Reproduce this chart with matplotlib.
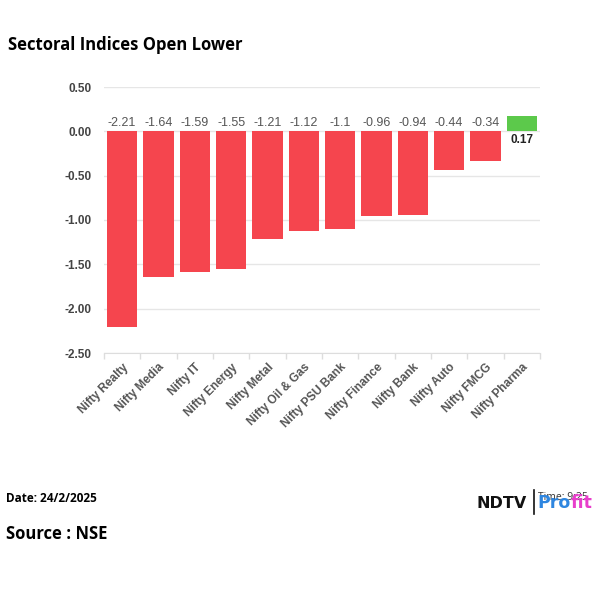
import matplotlib
matplotlib.use('Agg')
import matplotlib.pyplot as plt
import numpy as np

sectors = ["Nifty Realty", "Nifty Media", "Nifty IT", "Nifty Energy", "Nifty Metal",
           "Nifty Oil & Gas", "Nifty PSU Bank", "Nifty Finance", "Nifty Bank",
           "Nifty Auto", "Nifty FMCG", "Nifty Pharma"]
changes = [-2.21, -1.64, -1.59, -1.55, -1.21, -1.12, -1.1, -0.96, -0.94, -0.44, -0.34, 0.17]
value_labels = ["-2.21", "-1.64", "-1.59", "-1.55", "-1.21", "-1.12", "-1.1", "-0.96",
                "-0.94", "-0.44", "-0.34", "0.17"]
yticks = [0.5, 0.0, -0.5, -1.0, -1.5, -2.0, -2.5]

fig = plt.figure(figsize=(6, 6), dpi=100)
ax = fig.add_axes([104/600, 1 - 353/600, 436/600, 266/600])

x = np.arange(len(sectors))
colors = ['#F5454E' if v < 0 else '#5CC94B' for v in changes]
ax.bar(x, changes, width=0.83, color=colors, zorder=3)

for xi, v, lab in zip(x, changes, value_labels):
    if v < 0:
        ax.text(xi, 0.03, lab, ha='center', va='bottom', fontsize=9,
                color='#555555', family='Liberation Sans')
    else:
        ax.text(xi, -0.03, lab, ha='center', va='top', fontsize=8.5,
                color='#222222', fontweight='bold', family='Liberation Sans')

ax.set_xlim(-0.5, len(sectors) - 0.5)
ax.set_ylim(-2.5, 0.5)
ax.set_yticks(yticks)
ax.set_yticklabels([f"{t:.2f}" for t in yticks], fontsize=8.5, fontweight='bold',
                   color='#444444', family='Liberation Sans')
ax.set_xticks(x)
ax.set_xticklabels(sectors, rotation=45, ha='right', rotation_mode='anchor',
                   fontsize=8.5, fontweight='bold', color='#555555', family='Liberation Sans')
ax.set_xticks(np.arange(len(sectors) + 1) - 0.5, minor=True)
ax.tick_params(axis='x', which='major', length=0, pad=6)
ax.tick_params(axis='x', which='minor', length=4, color='#dddddd', width=1)
ax.tick_params(axis='y', length=0, pad=9)
ax.grid(axis='y', color='#e6e6e6', lw=1, zorder=0)
for s in ['top', 'right', 'left']:
    ax.spines[s].set_visible(False)
ax.spines['bottom'].set_color('#dddddd')

fig.text(8/600, 1 - 45/600, "Sectoral Indices Open Lower", fontsize=12, fontweight='bold',
         family='Open Sans', va='center', ha='left')
fig.text(6/600, 1 - 499/600, "Date: 24/2/2025", fontsize=8.5, fontweight='bold',
         family='Open Sans', va='center', ha='left')
fig.text(6/600, 1 - 534/600, "Source : NSE", fontsize=12, fontweight='bold',
         family='Open Sans', va='center', ha='left')

# logo area: NDTV | Profit, with the time stamp showing behind it
fig.text(476/600, 1 - 503/600, "NDTV", fontsize=11.5, fontweight='heavy', family='DejaVu Sans',
         va='center', ha='left', color='#111111')
fig.text(538/600, 1 - 498/600, "Time: 9:25", fontsize=7.5, family='Open Sans',
         va='center', ha='left', color='#333333')
fig.lines.append(plt.Line2D([534/600, 534/600], [1 - 490/600, 1 - 514/600],
                            transform=fig.transFigure, color='#111111', lw=1.2))
pro = fig.text(537/600, 1 - 503/600, "Pro", fontsize=12.5, fontweight='bold', family='DejaVu Sans',
               va='center', ha='left', color='#2E86E0')
renderer = fig.canvas.get_renderer()
bb = pro.get_window_extent(renderer=renderer)
fig.text(bb.x1 / 600, 1 - 503/600, "fit", fontsize=12.5, fontweight='bold', family='DejaVu Sans',
         va='center', ha='left', color='#E83ECB')

fig.savefig("out.png", dpi=100, facecolor='white')
